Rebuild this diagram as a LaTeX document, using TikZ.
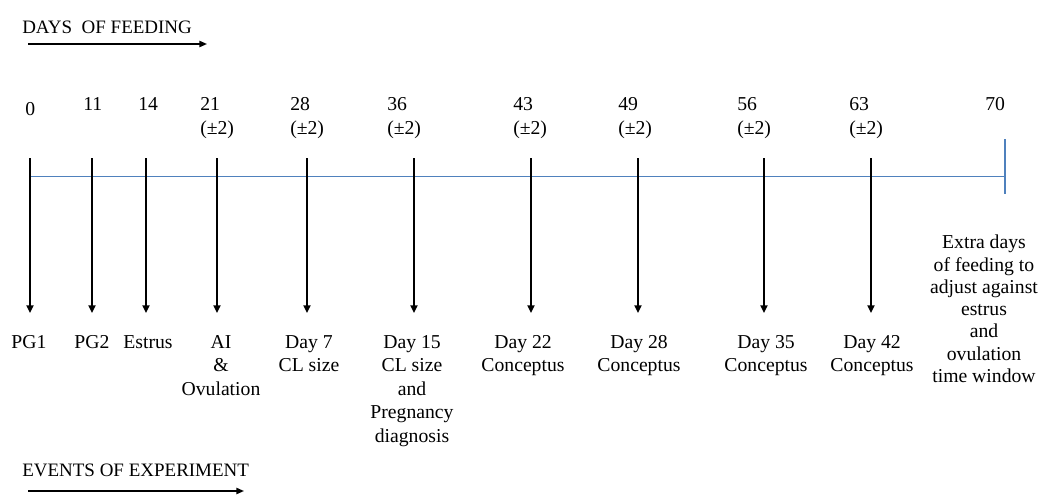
\documentclass[tikz,border=0pt]{standalone}
\usepackage{fontspec}
\setmainfont{Liberation Serif}
\usetikzlibrary{arrows.meta}

\definecolor{axisblue}{RGB}{79,129,189}

\tikzset{
  head/.style={font=\fontsize{13.5}{16}\selectfont, inner sep=0pt, anchor=west},
  headarrow/.style={line width=1.1pt, -{Triangle[length=5.5pt,width=4.5pt]}},
  daylbl/.style={font=\fontsize{14}{16.9}\selectfont, inner sep=0pt, align=left, anchor=north west},
  evlbl/.style={font=\fontsize{14}{16.7}\selectfont, inner sep=0pt, align=center, anchor=north},
  evarrow/.style={line width=1.25pt, -{Triangle[length=5.5pt,width=5pt]}},
  axis/.style={axisblue, line width=1.1pt}
}

\begin{document}
\begin{tikzpicture}[x=0.025cm,y=-0.025cm]
\useasboundingbox (0,0) rectangle (1040,494);

% Heading: days of feeding
\node[head] (feedtitle) at (22,27) {DAYS\ \ OF FEEDING};
\coordinate (feedstart) at (28,44);
\coordinate (feedend) at (207,44);
\draw[headarrow] (feedstart) -- (feedend);

% Time axis
\coordinate (axstart) at (30,176.5);
\coordinate (axend) at (1005,176.5);
\draw[axis] (axstart) -- (axend);
\coordinate (endtop) at (1005,139);
\coordinate (endbot) at (1005,194);
\draw[axis] (endtop) -- (endbot);

% Event arrows
\foreach \n/\x in {0/30,11/92,14/146,21/217,28/307,36/414,43/531,49/638,56/764,63/871} {
    \coordinate (tk\n) at (\x,158);
    \coordinate (tp\n) at (\x,313);
    \draw[evarrow] (tk\n) -- (tp\n);
}

% Days above the axis
\node[daylbl] (day0) at (25,102) {0};
\foreach \n/\lx/\txt in {11/83/11, 14/138/14, 21/200/{21\\(±2)}, 28/290/{28\\(±2)},
    36/387/{36\\(±2)}, 43/513/{43\\(±2)}, 49/618/{49\\(±2)}, 56/737/{56\\(±2)},
    63/849/{63\\(±2)}, 70/985/70} {
    \node[daylbl] (day\n) at (\lx,97) {\txt};
}

% Events below the arrows
\foreach \n/\x/\txt in {0/29/PG1, 11/92/PG2, 14/148/Estrus, 21/221/{AI\\\&\\Ovulation},
    28/309/{Day 7\\CL size}, 36/412/{Day 15\\CL size\\and\\Pregnancy\\diagnosis},
    43/523/{Day 22\\Conceptus}, 49/639/{Day 28\\Conceptus},
    56/766/{Day 35\\Conceptus}, 63/872/{Day 42\\Conceptus}} {
    \node[evlbl] (ev\n) at (\x,335) {\txt};
}
\node[evlbl, font=\fontsize{14}{15.8}\selectfont] (ev70) at (984,235)
    {Extra days\\of feeding to\\adjust against\\estrus\\and\\ovulation\\time window};

% Heading: events of experiment
\node[head] (evtitle) at (22,470) {EVENTS OF EXPERIMENT};
\coordinate (evstart) at (28,491);
\coordinate (evend) at (244,491);
\draw[headarrow] (evstart) -- (evend);

\end{tikzpicture}
\end{document}
